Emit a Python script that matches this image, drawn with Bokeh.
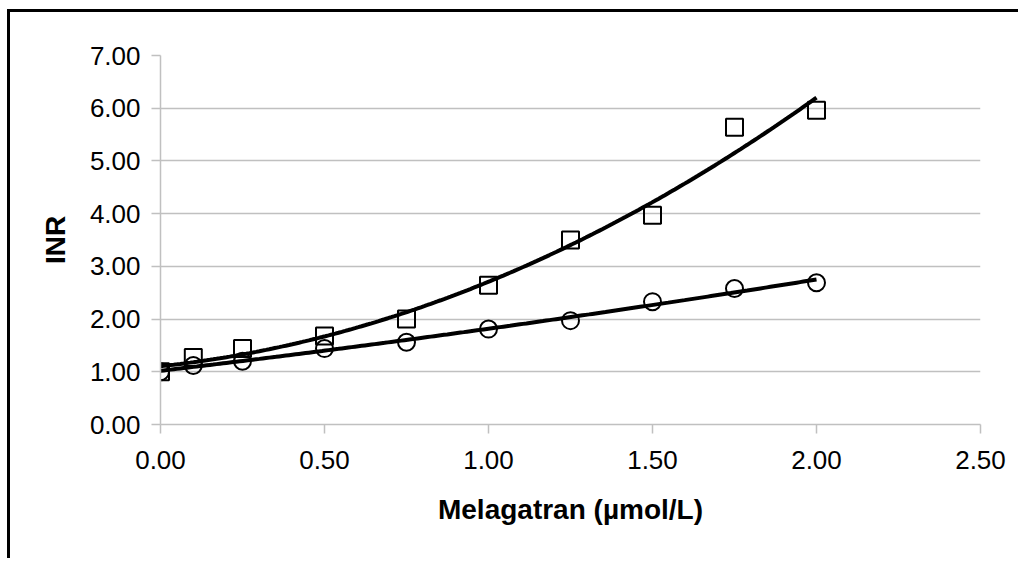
import numpy as np
from bokeh.plotting import figure
from bokeh.models import FixedTicker, Range1d, NumeralTickFormatter
from bokeh.embed import file_html
from bokeh.resources import INLINE

# Melagatran concentration (µmol/L) and measured INR for two series
conc = [0.0, 0.10, 0.25, 0.50, 0.75, 1.00, 1.25, 1.50, 1.75, 2.00]
inr_squares = [1.00, 1.27, 1.44, 1.68, 2.00, 2.64, 3.50, 3.97, 5.64, 5.96]
inr_circles = [1.00, 1.12, 1.20, 1.44, 1.56, 1.81, 1.97, 2.33, 2.58, 2.69]

x_ticks = [0.0, 0.5, 1.0, 1.5, 2.0, 2.5]
y_ticks = [0, 1, 2, 3, 4, 5, 6, 7]
grid_ticks = [1, 2, 3, 4, 5, 6]

GRAY = "#c0c0c0"
TICK_FONT = "Liberation Sans"
TITLE_FONT = "Liberation Sans"

p = figure(
    width=1011, height=549,
    output_backend="svg", toolbar_location=None,
    x_range=Range1d(0, 2.5), y_range=Range1d(0, 7),
    min_border_left=150, min_border_right=41,
    min_border_top=43, min_border_bottom=137,
)
p.styles = {
    "margin-left": "7px", "margin-top": "9px",
    "border-left": "3px solid #000000", "border-top": "3px solid #000000",
}
p.outline_line_color = None
p.background_fill_color = "white"
p.border_fill_color = "white"

# axes
for ax in (p.xaxis[0], p.yaxis[0]):
    ax.axis_line_color = GRAY
    ax.axis_line_width = 1.5
    ax.major_tick_line_color = GRAY
    ax.major_tick_line_width = 1.5
    ax.major_tick_in = 0
    ax.major_tick_out = 9
    ax.minor_tick_line_color = None
    ax.major_label_text_font = TICK_FONT
    ax.major_label_text_font_size = "26px"
    ax.major_label_text_color = "black"
    ax.formatter = NumeralTickFormatter(format="0.00")
    ax.axis_label_text_font = TITLE_FONT
    ax.axis_label_text_font_style = "bold"
    ax.axis_label_text_font_size = "28px"
    ax.axis_label_text_color = "black"

p.xaxis[0].ticker = FixedTicker(ticks=x_ticks)
p.yaxis[0].ticker = FixedTicker(ticks=y_ticks)
p.xaxis[0].axis_label = "Melagatran (µmol/L)"
p.yaxis[0].axis_label = "INR"
p.xaxis[0].major_label_standoff = 17
p.yaxis[0].major_label_standoff = 11
p.xaxis[0].axis_label_standoff = 22
p.yaxis[0].axis_label_standoff = 16

p.xgrid.grid_line_color = None
p.ygrid.ticker = FixedTicker(ticks=grid_ticks)
p.ygrid.grid_line_color = GRAY
p.ygrid.grid_line_width = 1.5

# second-order polynomial trend lines fitted to each series
xs_fit = np.linspace(min(conc), max(conc), 200)
for ys in (inr_squares, inr_circles):
    coeffs = np.polyfit(conc, ys, 2)
    p.line(xs_fit, np.polyval(coeffs, xs_fit), line_color="black", line_width=4)

p.scatter(conc, inr_squares, marker="square", size=17,
          fill_color=None, line_color="black", line_width=2)
p.scatter(conc, inr_circles, marker="circle", size=17,
          fill_color=None, line_color="black", line_width=2)

open("out.html", "w").write(file_html(p, INLINE))
